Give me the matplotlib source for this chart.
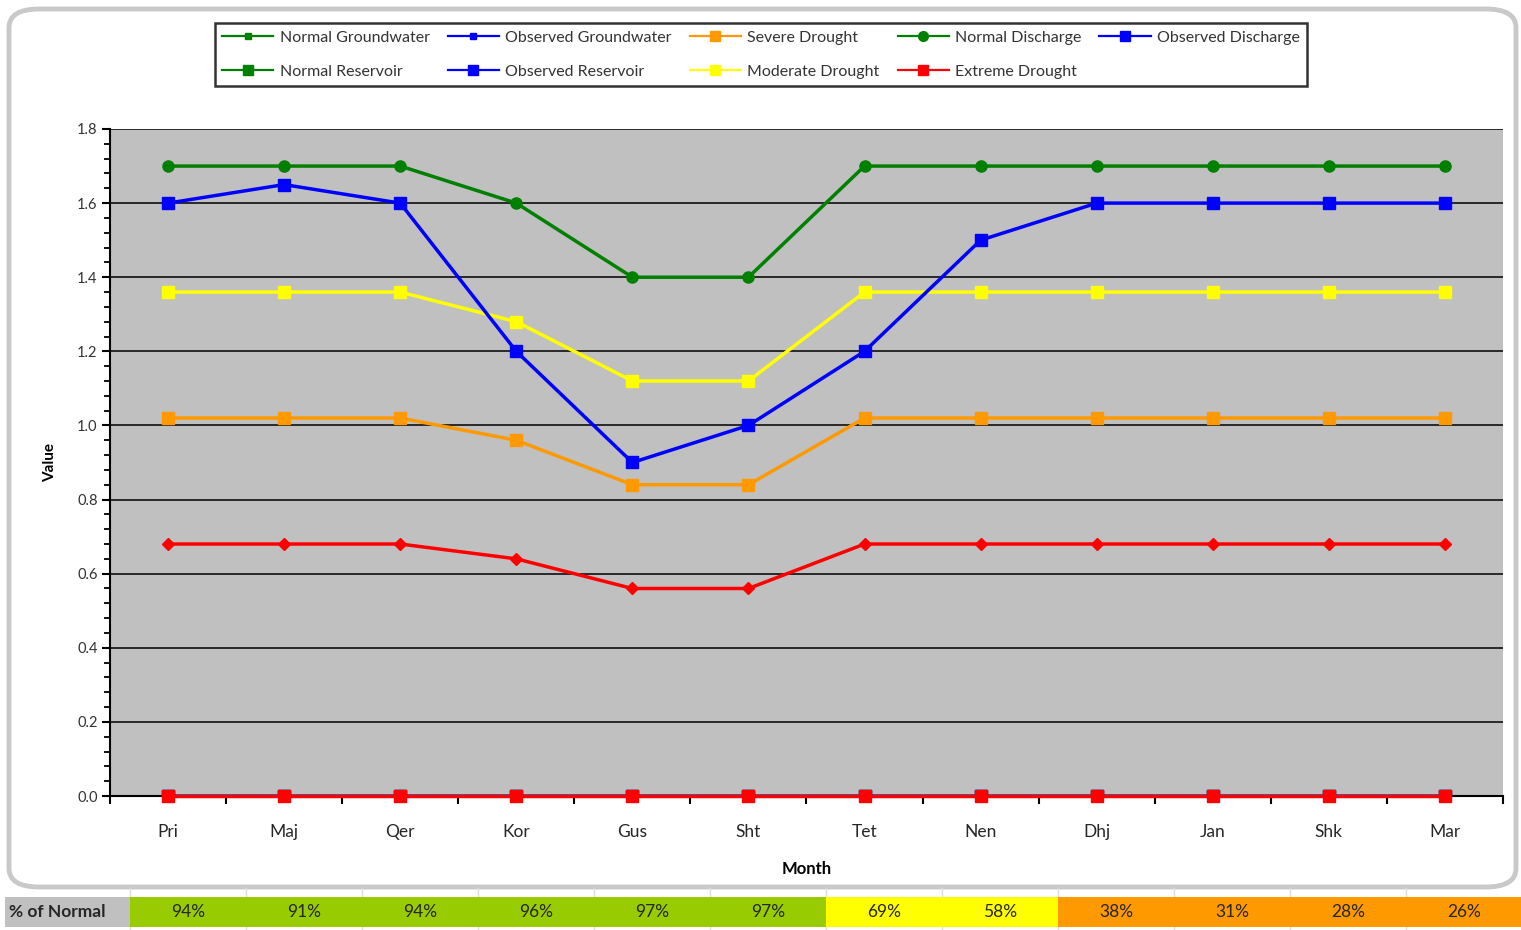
import matplotlib
matplotlib.use("Agg")
import matplotlib.pyplot as plt
from matplotlib.patches import FancyBboxPatch, Rectangle
from matplotlib.ticker import MultipleLocator

plt.rcParams['font.family'] = ['Lato', 'DejaVu Sans']

# ── data ─────────────────────────────────────────────────────────
months = ['Pri', 'Maj', 'Qer', 'Kor', 'Gus', 'Sht', 'Tet', 'Nen', 'Dhj', 'Jan', 'Shk', 'Mar']

normal_discharge   = [1.70, 1.70, 1.70, 1.60, 1.40, 1.40, 1.70, 1.70, 1.70, 1.70, 1.70, 1.70]
observed_discharge = [1.60, 1.65, 1.60, 1.20, 0.90, 1.00, 1.20, 1.50, 1.60, 1.60, 1.60, 1.60]
moderate_drought   = [1.36, 1.36, 1.36, 1.28, 1.12, 1.12, 1.36, 1.36, 1.36, 1.36, 1.36, 1.36]
severe_drought     = [1.02, 1.02, 1.02, 0.96, 0.84, 0.84, 1.02, 1.02, 1.02, 1.02, 1.02, 1.02]
extreme_threshold  = [0.68, 0.68, 0.68, 0.64, 0.56, 0.56, 0.68, 0.68, 0.68, 0.68, 0.68, 0.68]
normal_groundwater   = [0.0] * 12
observed_groundwater = [0.0] * 12
normal_reservoir     = [0.0] * 12
observed_reservoir   = [0.0] * 12
extreme_drought      = [0.0] * 12

pct_normal = [94, 91, 94, 96, 97, 97, 69, 58, 38, 31, 28, 26]
pct_colors = ['#99cc00'] * 6 + ['#ffff00'] * 2 + ['#ff9900'] * 4

W, H = 1521, 930
fig = plt.figure(figsize=(W / 100, H / 100), dpi=100)

# rounded chart border (behind everything)
border = FancyBboxPatch((9 / W, 1 - 887 / H), 1507 / W, 878 / H,
                        boxstyle="round,pad=0,rounding_size=0.02",
                        transform=fig.transFigure, facecolor='white',
                        edgecolor='#c9c9c9', linewidth=3.5, zorder=-10)
fig.patches.append(border)

ax = fig.add_axes([110 / W, 1 - 796 / H, (1503 - 110) / W, (796 - 129) / H])
ax.set_zorder(5)
ax.set_facecolor('#c0c0c0')
x = list(range(len(months)))

# zero-valued series sit underneath the extreme drought markers
ax.plot(x, normal_groundwater, color='#008000', lw=2.5, marker='s', ms=5, label='Normal Groundwater', zorder=3)
ax.plot(x, observed_groundwater, color='#0000ff', lw=2.5, marker='s', ms=5, label='Observed Groundwater', zorder=3)
ax.plot(x, normal_reservoir, color='#008000', lw=2.5, marker='s', ms=8, label='Normal Reservoir', zorder=3)
ax.plot(x, observed_reservoir, color='#0000ff', lw=2.5, marker='s', ms=8, label='Observed Reservoir', zorder=3)
ax.plot(x, extreme_drought, color='#ff0000', lw=2.5, marker='s', ms=8.5, label='Extreme Drought', zorder=4,
        clip_on=False)

ax.plot(x, extreme_threshold, color='#ff0000', lw=2.5, marker='D', ms=6, zorder=4)
ax.plot(x, severe_drought, color='#ff9900', lw=2.5, marker='s', ms=8.5, label='Severe Drought', zorder=4)
ax.plot(x, moderate_drought, color='#ffff00', lw=2.5, marker='s', ms=8.5, label='Moderate Drought', zorder=4)
ax.plot(x, observed_discharge, color='#0000ff', lw=2.5, marker='s', ms=8.5, label='Observed Discharge', zorder=5)
ax.plot(x, normal_discharge, color='#008000', lw=2.5, marker='o', ms=8, label='Normal Discharge', zorder=5)

ax.set_xlim(-0.5, len(months) - 0.5)
ax.set_ylim(0, 1.8)
ax.yaxis.set_minor_locator(MultipleLocator(0.04))
ax.set_yticks([i * 0.2 for i in range(10)])
ax.set_yticklabels([f"{i * 0.2:.1f}" for i in range(10)])
ax.grid(axis='y', which='major', color='black', linewidth=1.1, zorder=1)
ax.set_axisbelow(True)

ax.set_xticks(x)
ax.set_xticklabels(months, fontsize=12.5, color='#262626')
ax.set_xticks([i + 0.5 for i in range(-1, len(months))], minor=True)
ax.tick_params(axis='x', which='major', length=0, pad=20)
ax.tick_params(axis='x', which='minor', length=6, width=1.5, direction='out')
ax.tick_params(axis='y', which='major', length=6, width=1.5, labelsize=10.5,
               labelcolor='#333333', pad=3)
ax.tick_params(axis='y', which='minor', length=4, width=1.3)
for s in ['top', 'right']:
    ax.spines[s].set_visible(False)
for s in ['left', 'bottom']:
    ax.spines[s].set_linewidth(1.5)

ax.set_xlabel('Month', fontsize=12, fontweight='bold', labelpad=15)
ax.set_ylabel('Value', fontsize=11, fontweight='bold', labelpad=14)

# legend, row-major order arranged for column-major filling
h, l = ax.get_legend_handles_labels()
lut = dict(zip(l, h))
order = ['Normal Groundwater', 'Normal Reservoir', 'Observed Groundwater', 'Observed Reservoir',
         'Severe Drought', 'Moderate Drought', 'Normal Discharge', 'Extreme Drought',
         'Observed Discharge']
leg = fig.legend([lut[k] for k in order], order, ncol=5, loc='lower left',
                 bbox_to_anchor=(215 / W, 1 - 86 / H, 1092 / W, 64 / H),
                 mode='expand', borderaxespad=0, fancybox=False, frameon=True,
                 edgecolor='black', fontsize=11.5, handlelength=3.2,
                 handletextpad=0.4, labelspacing=1.25, borderpad=0.45)
leg.get_frame().set_linewidth(1.8)
for t in leg.get_texts():
    t.set_color('#333333')
for lh in leg.get_lines():
    lh.set_linewidth(1.6)
    lh.set_markersize(min(lh.get_markersize(), 7))

# "% of Normal" strip
tab = fig.add_axes([0, 0, 1, 1], facecolor='none')
tab.set_zorder(1)
tab.set_xlim(0, W)
tab.set_ylim(H, 0)
tab.axis('off')
row_top, row_bot = 897, 927
x0, cw = 130, 116.0
for i in range(len(pct_normal) + 1):
    xb = x0 + i * cw
    tab.plot([xb, xb], [888, H], color='#dcdcdc', lw=1, zorder=1)
tab.add_patch(Rectangle((5, row_top), x0 - 5, row_bot - row_top, facecolor='#c0c0c0',
                        edgecolor='none', zorder=2))
tab.text(9, (row_top + row_bot) / 2, '% of Normal', fontsize=12.5, fontweight='bold',
         color='#262626', va='center', ha='left', zorder=3)
for i, (p, c) in enumerate(zip(pct_normal, pct_colors)):
    tab.add_patch(Rectangle((x0 + i * cw, row_top), cw, row_bot - row_top, facecolor=c,
                            edgecolor='none', zorder=2))
    tab.text(x0 + i * cw + cw / 2, (row_top + row_bot) / 2, f"{p}%", fontsize=12.5,
             color='#262626', va='center', ha='center', zorder=3)

fig.savefig('out.png', dpi=100)
